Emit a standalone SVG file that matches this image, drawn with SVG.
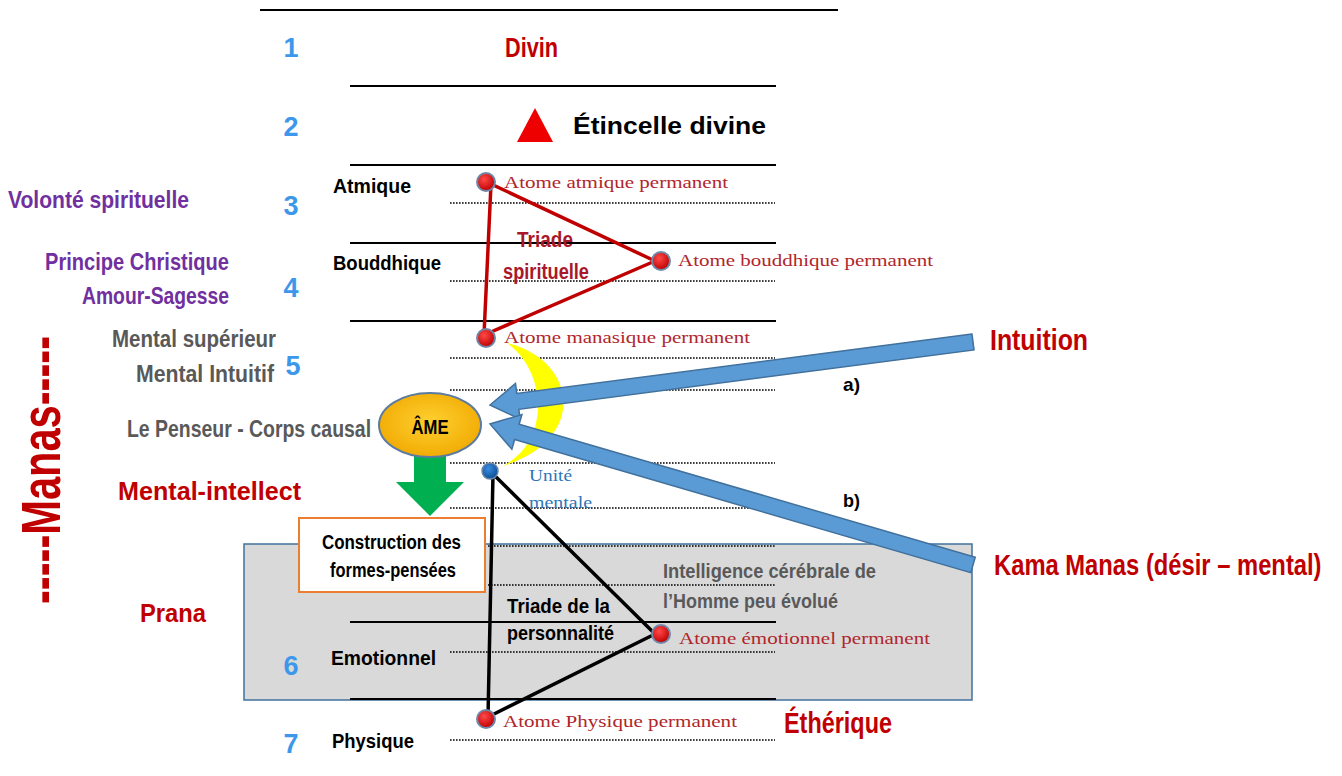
<svg xmlns="http://www.w3.org/2000/svg" width="1342" height="776" viewBox="0 0 1342 776">
<defs>
<style>
.sol{stroke:#000;stroke-width:2;fill:none}
.dot{stroke:#000;stroke-width:1.7;stroke-dasharray:1.6 1.4;fill:none}
.num{font-family:"Liberation Sans",Arial,sans-serif;font-weight:bold;font-size:27px;fill:#3D97EA;text-anchor:middle}
.b{font-family:"Liberation Sans",Arial,sans-serif;font-weight:bold}
.red{fill:#C00000}
.dred{fill:#A8182A}
.pur{fill:#7030A0}
.gry{fill:#595959}
.blk{fill:#000}
.ser{font-family:"Liberation Serif","Times New Roman",serif;font-size:17px;fill:#B0262B}
.serb{font-family:"Liberation Serif","Times New Roman",serif;font-size:16px;fill:#2E75B6}
.atom{fill:url(#gRed);stroke:#6F87A8;stroke-width:2}
.arrow{fill:#5B9BD5;stroke:#41719C;stroke-width:1.5}
</style>
<radialGradient id="gRed" cx="40%" cy="35%" r="65%">
<stop offset="0" stop-color="#FF4A4A"/>
<stop offset="1" stop-color="#C00000"/>
</radialGradient>
<radialGradient id="gBlue" cx="40%" cy="35%" r="65%">
<stop offset="0" stop-color="#3A8DE0"/>
<stop offset="1" stop-color="#0E4F96"/>
</radialGradient>
<radialGradient id="gGold" cx="50%" cy="45%" r="60%">
<stop offset="0" stop-color="#FFD030"/>
<stop offset="1" stop-color="#F0A800"/>
</radialGradient>
<linearGradient id="gLine" x1="0" y1="0" x2="1" y2="0">
<stop offset="0" stop-color="#D0D0D0"/>
<stop offset="1" stop-color="#707070"/>
</linearGradient>
</defs>
<rect width="1342" height="776" fill="#fff"/>

<g id="prana-zone">
<rect x="244" y="544" width="728" height="156" fill="#D9D9D9" stroke="#41719C" stroke-width="1.5"/>
</g>

<g id="planes">
<line class="sol" x1="260" y1="10" x2="838" y2="10"/>
<line class="sol" x1="350" y1="86" x2="776" y2="86"/>
<line class="sol" x1="350" y1="165" x2="776" y2="165"/>
<line class="sol" x1="350" y1="243" x2="776" y2="243"/>
<line class="sol" x1="350" y1="321" x2="776" y2="321"/>
<line class="sol" x1="350" y1="622" x2="776" y2="622"/>
<line class="sol" x1="350" y1="699" x2="776" y2="699"/>
<line x1="670" y1="773" x2="905" y2="773" stroke="url(#gLine)" stroke-width="2"/>
<line class="dot" x1="450" y1="203" x2="775" y2="203"/>
<line class="dot" x1="450" y1="281" x2="775" y2="281"/>
<line class="dot" x1="450" y1="358" x2="775" y2="358"/>
<line class="dot" x1="450" y1="390" x2="775" y2="390"/>
<line class="dot" x1="450" y1="463" x2="775" y2="463"/>
<line class="dot" x1="450" y1="508" x2="775" y2="508"/>
<line class="dot" x1="488" y1="546" x2="775" y2="546"/>
<line class="dot" x1="488" y1="585" x2="775" y2="585"/>
<line class="dot" x1="450" y1="652" x2="775" y2="652"/>
<line class="dot" x1="450" y1="740" x2="775" y2="740"/>
</g>

<g id="numbers">
<text class="num" x="291" y="57">1</text>
<text class="num" x="291" y="136">2</text>
<text class="num" x="291" y="215">3</text>
<text class="num" x="291" y="297">4</text>
<text class="num" x="293" y="375">5</text>
<text class="num" x="291" y="675">6</text>
<text class="num" x="291" y="753">7</text>
</g>

<g id="left-labels">
<text class="b pur" x="8" y="208" font-size="24" textLength="181" lengthAdjust="spacingAndGlyphs">Volonté spirituelle</text>
<text class="b pur" x="45" y="270" font-size="24" textLength="184" lengthAdjust="spacingAndGlyphs">Principe Christique</text>
<text class="b pur" x="82" y="304" font-size="24" textLength="147" lengthAdjust="spacingAndGlyphs">Amour-Sagesse</text>
<text class="b gry" font-size="24" transform="translate(112 347) scale(0.855 1)">Mental supérieur</text>
<text class="b gry" font-size="24" transform="translate(136 382) scale(0.885 1)">Mental Intuitif</text>
<text class="b gry" font-size="24" transform="translate(127 437) scale(0.81 1)">Le Penseur - Corps causal</text>
<text class="b red" x="118" y="500" font-size="26" textLength="183" lengthAdjust="spacingAndGlyphs">Mental-intellect</text>
<text class="b red" x="140" y="622" font-size="26" textLength="66" lengthAdjust="spacingAndGlyphs">Prana</text>
<text class="b red" x="60" y="470" font-size="56" text-anchor="middle" transform="rotate(-90 60 470)" textLength="268" lengthAdjust="spacingAndGlyphs">-----Manas-----</text>
</g>

<g id="plane-names">
<text class="b red" x="505" y="57" font-size="28" textLength="53" lengthAdjust="spacingAndGlyphs">Divin</text>
<text class="b blk" x="573" y="134" font-size="23" textLength="193" lengthAdjust="spacingAndGlyphs">Étincelle divine</text>
<text class="b blk" x="333" y="193" font-size="20" textLength="78" lengthAdjust="spacingAndGlyphs">Atmique</text>
<text class="b blk" x="333" y="270" font-size="20" textLength="108" lengthAdjust="spacingAndGlyphs">Bouddhique</text>
<text class="b blk" x="331" y="665" font-size="21" textLength="105" lengthAdjust="spacingAndGlyphs">Emotionnel</text>
<text class="b blk" x="332" y="748" font-size="21" textLength="82" lengthAdjust="spacingAndGlyphs">Physique</text>
<text class="b red" x="784" y="733" font-size="30" textLength="108" lengthAdjust="spacingAndGlyphs">Éthérique</text>
</g>

<g id="spark">
<polygon points="535,108 517,142 553,142" fill="#EE0000"/>
</g>

<g id="crescent">
<path d="M507,343 C578,360 588,440 503,466 C552,440 546,370 507,343 Z" fill="#FFFF00"/>
</g>

<g id="connectors">
<polygon class="arrow" points="971.97,334.07 516.77,393.47 515.47,383.55 490,405 520.13,419.25 518.83,409.33 974.03,349.93"/>
<polygon class="arrow" points="975.24,557.32 519.12,424.17 521.92,414.57 490,424 511.84,449.13 514.64,439.53 970.76,572.68"/>
<polygon points="414,446 446,446 446,482 464,482 430,516 396,482 414,482" fill="#00B050"/>
<polyline points="491,184 655,261 484,335 491,184" fill="none" stroke="#C00000" stroke-width="3.5" stroke-linejoin="round"/>
<polyline points="493,474 655,634 488,717 493,474" fill="none" stroke="#000" stroke-width="3.5" stroke-linejoin="round"/>
</g>

<g id="spiritual-triad">
<text class="b dred" x="517" y="247" font-size="22" textLength="56" lengthAdjust="spacingAndGlyphs">Triade</text>
<text class="b dred" x="503" y="279" font-size="22" textLength="86" lengthAdjust="spacingAndGlyphs">spirituelle</text>
</g>

<g id="atom-atmique">
<circle class="atom" cx="486" cy="182" r="9"/>
<text class="ser" x="504" y="188" textLength="224" lengthAdjust="spacingAndGlyphs">Atome atmique permanent</text>
</g>
<g id="atom-bouddhique">
<circle class="atom" cx="661" cy="261" r="9"/>
<text class="ser" x="678" y="266" textLength="255" lengthAdjust="spacingAndGlyphs">Atome bouddhique permanent</text>
</g>
<g id="atom-manasique">
<circle class="atom" cx="486" cy="338" r="9"/>
<text class="ser" x="504" y="343" textLength="246" lengthAdjust="spacingAndGlyphs">Atome manasique permanent</text>
</g>
<g id="unite-mentale">
<circle cx="490" cy="471" r="8" fill="url(#gBlue)" stroke="#6F87A8" stroke-width="1.5"/>
<text class="serb" x="529" y="481" textLength="43" lengthAdjust="spacingAndGlyphs">Unité</text>
<text class="serb" x="529" y="508" textLength="63" lengthAdjust="spacingAndGlyphs">mentale</text>
</g>
<g id="atom-emotionnel">
<circle class="atom" cx="661" cy="634" r="9"/>
<text class="ser" x="679" y="644" textLength="251" lengthAdjust="spacingAndGlyphs">Atome émotionnel permanent</text>
</g>
<g id="atom-physique">
<circle class="atom" cx="486" cy="719" r="9"/>
<text class="ser" x="503" y="727" textLength="234" lengthAdjust="spacingAndGlyphs">Atome Physique permanent</text>
</g>

<g id="ame">
<ellipse cx="430" cy="425" rx="51" ry="32" fill="url(#gGold)" stroke="#5B7BA0" stroke-width="2"/>
<text class="b blk" x="430" y="434" font-size="21" text-anchor="middle" textLength="37" lengthAdjust="spacingAndGlyphs">ÂME</text>
</g>

<g id="formes-pensees">
<rect x="299" y="518" width="186" height="74" fill="#fff" stroke="#ED7D31" stroke-width="2"/>
<text class="b blk" x="322" y="549" font-size="20" textLength="139" lengthAdjust="spacingAndGlyphs">Construction des</text>
<text class="b blk" x="330" y="577" font-size="20" textLength="126" lengthAdjust="spacingAndGlyphs">formes-pensées</text>
</g>

<g id="personality-triad">
<text class="b blk" x="507" y="613" font-size="20" textLength="103" lengthAdjust="spacingAndGlyphs">Triade de la</text>
<text class="b blk" x="507" y="640" font-size="20" textLength="107" lengthAdjust="spacingAndGlyphs">personnalité</text>
</g>

<g id="intelligence">
<text class="b gry" x="663" y="578" font-size="21" textLength="213" lengthAdjust="spacingAndGlyphs">Intelligence cérébrale de</text>
<text class="b gry" x="663" y="608" font-size="21" textLength="175" lengthAdjust="spacingAndGlyphs">l’Homme peu évolué</text>
</g>

<g id="intuition">
<text class="b red" x="990" y="350" font-size="29" textLength="98" lengthAdjust="spacingAndGlyphs">Intuition</text>
<text class="b blk" x="843" y="391" font-size="19" textLength="17" lengthAdjust="spacingAndGlyphs">a)</text>
</g>
<g id="kama-manas">
<text class="b red" font-size="29" transform="translate(994 575) scale(0.82 1)">Kama Manas (désir – mental)</text>
<text class="b blk" x="843" y="507" font-size="19" textLength="17" lengthAdjust="spacingAndGlyphs">b)</text>
</g>
</svg>
